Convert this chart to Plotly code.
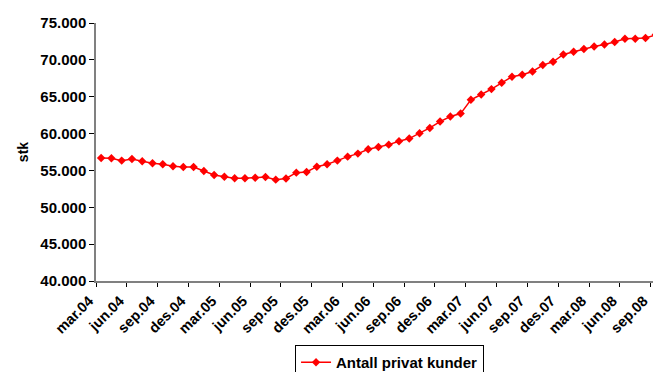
import plotly.graph_objects as go

# Monthly customer counts, mar.04 .. sep.08 (index 0 = mar.04)
kunder = [56700, 56650, 56330, 56560, 56250, 55970, 55840, 55570, 55470, 55470,
          54930, 54380, 54150, 53940, 53940, 54020, 54110, 53750, 53910, 54700,
          54790, 55510, 55840, 56330, 56870, 57280, 57880, 58190, 58500, 58960,
          59320, 60050, 60770, 61630, 62310, 62710, 64580, 65300, 66030, 66890,
          67700, 67970, 68420, 69290, 69740, 70730, 71100, 71470, 71820, 72090,
          72420, 72870, 72870, 72960, 73400]
month_idx = list(range(len(kunder)))

tick_labels = ["mar.04", "jun.04", "sep.04", "des.04", "mar.05", "jun.05", "sep.05",
               "des.05", "mar.06", "jun.06", "sep.06", "des.06", "mar.07", "jun.07",
               "sep.07", "des.07", "mar.08", "jun.08", "sep.08"]
tick_pos = [i * 3 - 0.5 for i in range(len(tick_labels))]

y_ticks = [40000, 45000, 50000, 55000, 60000, 65000, 70000, 75000]

font = "Arial, Liberation Sans, sans-serif"

fig = go.Figure()
fig.add_trace(go.Scatter(
    x=month_idx, y=kunder, name="Antall privat kunder", mode="lines+markers",
    line=dict(color="#ff0000", width=1.5),
    marker=dict(symbol="diamond", size=6.5, color="#ff0000"),
))

# figure is a bit taller than the window: the legend box runs off the bottom like the original
fig.update_layout(
    width=653, height=390,
    margin=dict(l=96, r=0, t=23, b=109, autoexpand=False),
    paper_bgcolor="white", plot_bgcolor="white",
    separators=",.",
    font=dict(family=font, color="black"),
    showlegend=True,
    legend=dict(
        x=0.527, y=-0.248, xanchor="center", yanchor="top",
        bordercolor="black", borderwidth=1,
        font=dict(size=15, family=font, weight="bold"),
        itemwidth=30, tracegroupgap=0,
    ),
)
fig.update_xaxes(
    range=[-0.5, 53.73], automargin=False, ticklabeloverflow="allow",
    tickvals=tick_pos, ticktext=tick_labels, tickangle=-45, ticklabelshift=-7,
    tickfont=dict(size=14.5, weight="bold"),
    showline=True, linecolor="#808080", linewidth=1.5,
    ticks="outside", ticklen=4, tickcolor="black",
    showgrid=False, zeroline=False,
)
fig.update_yaxes(
    range=[40000, 75000], automargin=False,
    tickvals=y_ticks, tickformat=",.0f",
    tickfont=dict(size=15, weight="bold"),
    showline=True, linecolor="#808080", linewidth=1.5,
    ticks="outside", ticklen=5, tickcolor="black",
    showgrid=False, zeroline=False,
    title=dict(text="stk", font=dict(size=14, weight="bold"), standoff=8),
)

# drop the default page margin so the figure starts at the window corner
fig.write_html("out.html", config={"displayModeBar": False},
               post_script="document.body.style.margin='0';document.body.style.overflow='hidden';")
